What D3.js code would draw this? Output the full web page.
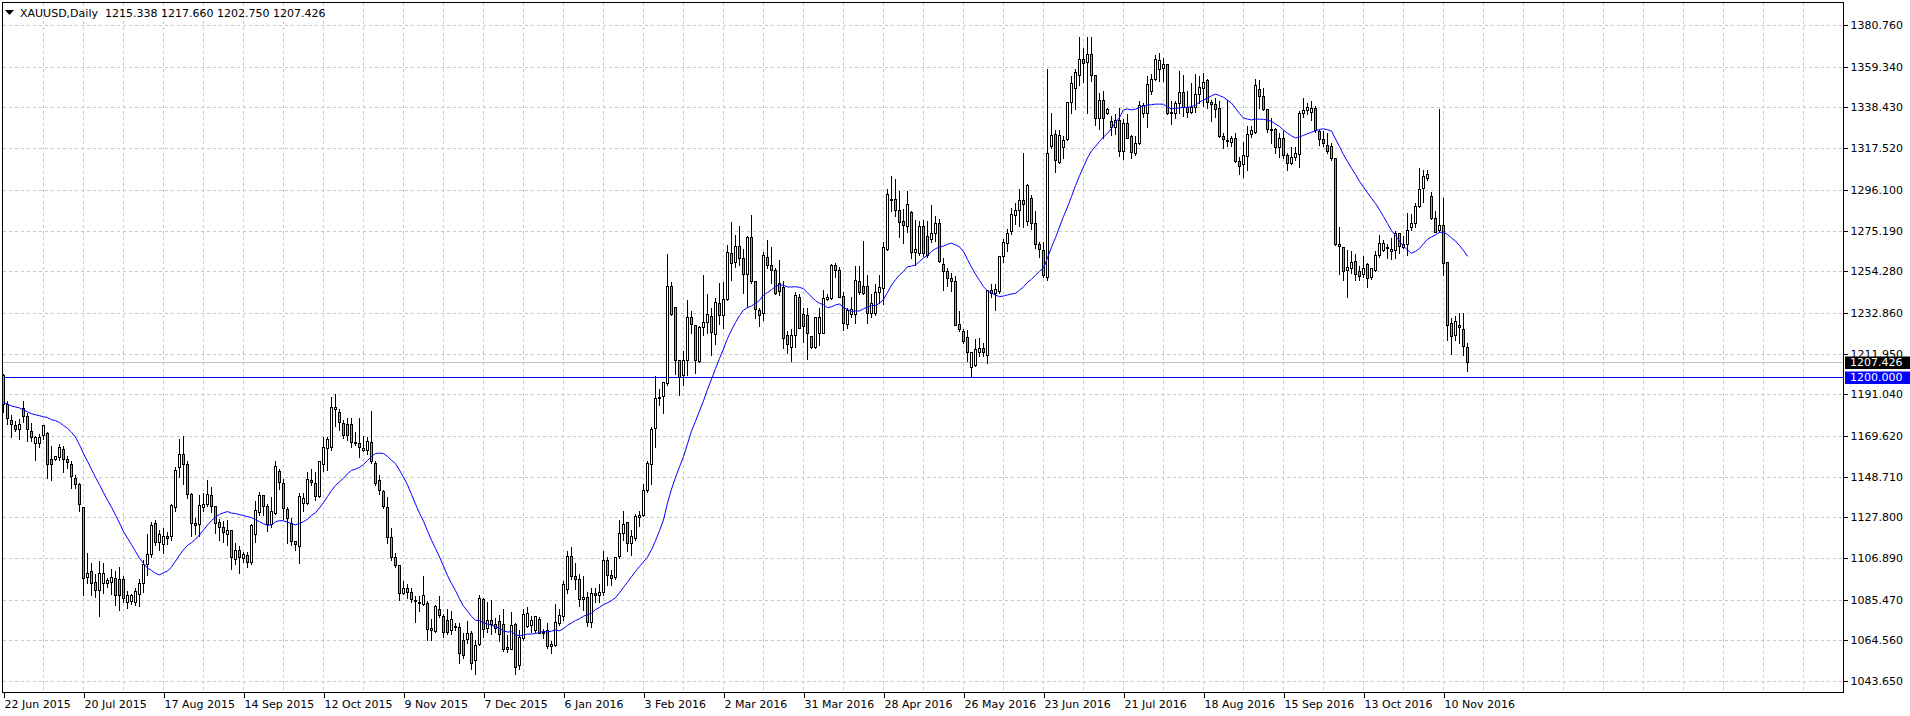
<!DOCTYPE html>
<html>
<head>
<meta charset="utf-8">
<script src="https://cdn.jsdelivr.net/npm/d3@7"></script>
<style>
  html, body { margin: 0; padding: 0; background: #fff; }
  svg { display: block; }
  text { font-family: "DejaVu Sans", sans-serif; font-size: 11px; }
</style>
</head>
<body>
<div id="container"></div>
<script>
// XAUUSD daily, 22 Jun 2015 .. 18 Nov 2016 (one value per bar)
var opens = [
  1201,1186,1178,1175,1173,1184,1180,1172,1166,1166,
  1170,1171,1158,1158,1159,1163,1158,1155,1148,1145,
  1133,1097,1100,1094.5,1090.5,1094,1094,1094.5,1096.5,1096,
  1096,1084,1085,1084.5,1088.5,1094,1104,1109,1125,1115,
  1114,1118,1118,1133,1153.5,1160.5,1155,1140,1125,1124.5,
  1133,1134.5,1139.5,1133.5,1125.5,1123,1119,1121.5,1106.5,1111,
  1107,1108.5,1105,1119,1130.5,1139.5,1133.5,1124.5,1130,1151.5,
  1145.5,1132,1125,1115.5,1113,1135,1135,1147,1145.5,1138.5,
  1155,1163.5,1164,1183.5,1182,1176.5,1176,1175.5,1166,1166,
  1162.5,1162.5,1166.5,1155.5,1147,1141.5,1133,1117.5,1107.5,1103.5,
  1089,1091.5,1089.5,1085.5,1084.5,1083,1083.5,1071,1069.5,1080.5,
  1077,1075,1070,1072,1071.5,1064.5,1065,1068.5,1054.5,1062.5,
  1086,1071,1075,1073,1074.5,1073,1061,1060,1073,1052,
  1065.5,1072,1072.5,1070,1075.5,1068.5,1070,1061.5,1062,1073.5,
  1077,1091,1108,1097.5,1096,1086,1087,1074,1089,1088,
  1089.5,1106,1098,1097,1108,1119.5,1125.5,1114.5,1117,1128,
  1129,1142,1155,1173.5,1189,1190,1197,1246.5,1236,1208.5,
  1201,1208.5,1231,1226.5,1208,1225.5,1228,1231.5,1222,1238,
  1232,1240,1263.5,1259,1267,1261,1253,1272,1249.5,1234.5,
  1233,1261.5,1257.5,1255,1248,1246,1221.5,1215.5,1221.5,1241,
  1232.5,1232,1221,1215.5,1222.5,1222.5,1240,1240.5,1257.5,1255,
  1241.5,1227,1232.5,1232.5,1249,1246.5,1246.5,1233,1233,1243.5,
  1245.5,1265.5,1291,1291.5,1286,1280,1277.5,1284.5,1264,1263.5,
  1277.5,1272.5,1271,1274,1279,1258,1254.5,1251,1249,1227,
  1223.5,1220.5,1205,1206,1212.5,1215,1211,1244.5,1243,1244,
  1262,1269,1275,1283,1285.5,1291,1280,1292,1279,1268.5,
  1265,1251.5,1318.5,1325,1310.5,1318,1322,1341.5,1348.5,1355,
  1363.5,1362,1366,1355,1333,1342.5,1335.5,1331.5,1328.5,1332,
  1316,1330.5,1324,1315,1320,1335.5,1335.5,1347,1353,1358,
  1358.5,1361,1335.5,1335.5,1340.5,1346.5,1338.5,1336,1338.5,1345.5,
  1348.5,1352.5,1341,1340,1338,1324,1321.5,1320.5,1323,1311,
  1309.5,1313.5,1325,1326,1348,1344.5,1337.5,1327.5,1327.5,1318,
  1322.5,1314,1310,1313,1314.5,1335.5,1337,1336,1338,1326.5,
  1322,1319,1318.5,1312.5,1268.5,1266.5,1255,1256,1259.5,1254.5,
  1253,1258,1251.5,1255,1262.5,1265,1266,1264.5,1265,1274,
  1266.5,1268.5,1277,1279,1288,1297,1302,1293,1281.5,1275.5,
  1278,1259,1227.5,1221.5,1226.5,1224.5,1215.338
];
var highs = [
  1202,1188,1181,1178,1179,1188,1182,1177,1170,1171,
  1176,1172,1165,1160,1166,1165,1160,1157,1150,1146,
  1133.5,1110,1105,1099,1106,1105,1097,1101.5,1100.5,1103,
  1098,1090.5,1089,1092,1096.5,1106.5,1119.5,1126,1127,1122,
  1123,1121,1135,1154,1168.5,1170,1157,1141,1128,1140,
  1141,1147.5,1144,1134,1127.5,1126.5,1127,1121.5,1115,1113.5,
  1110.5,1110.5,1125,1136.5,1141.5,1140,1135,1138.5,1157,1153,
  1148,1133.5,1128,1116,1141,1141,1151.5,1153,1151.5,1157,
  1169.5,1169.5,1190,1191.5,1184,1178.5,1179.5,1179.5,1172,1179.5,
  1170,1169.5,1183,1157.5,1150,1142.5,1138.5,1123,1110,1103.5,
  1095.5,1094,1092,1088,1088,1098,1085.5,1076,1083,1088,
  1078.5,1081,1080,1074,1074,1069,1075,1070,1065,1088.5,
  1087,1085,1086,1076.5,1078,1081,1068,1079.5,1074,1070.5,
  1081,1082,1077.5,1077.5,1077,1071,1074,1064.5,1083.5,1081,
  1095.5,1111,1113,1105,1099,1098,1090,1092,1092,1094,
  1111,1108,1101,1108,1127,1131.5,1125.5,1122,1130,1131.5,
  1145.5,1157.5,1174.5,1201,1194,1197.5,1263.5,1249,1236,1208.5,
  1214,1240,1234.5,1226.5,1226.5,1253,1243,1236,1241,1248.5,
  1249,1268.5,1280,1273.5,1278,1266,1273,1283.5,1250,1236,
  1264.5,1271,1267,1256.5,1260.5,1250,1224,1225,1244,1243,
  1236,1236,1221.5,1231.5,1236,1245,1243,1258.5,1259,1257,
  1244,1236,1241.5,1257.5,1257.5,1270.5,1253,1243,1248,1253,
  1270,1297,1303.5,1302,1296,1287,1296,1286,1281,1280.5,
  1281,1280.5,1289,1283,1281.5,1261.5,1256.5,1254,1252.5,1234.5,
  1225,1224.5,1213.5,1220,1220.5,1218,1244.5,1248,1248,1262.5,
  1271.5,1276.5,1287.5,1290,1297,1315.5,1299.5,1294,1286,1270,
  1270,1358.5,1336,1327.5,1327.5,1324.5,1342,1355,1358.5,1375,
  1369.5,1375,1375,1355,1346.5,1347.5,1338.5,1334.5,1335.5,1338.5,
  1333,1335.5,1325,1324.5,1342.5,1341.5,1355,1356,1366,1367,
  1364.5,1361,1342.5,1342.5,1357.5,1355.5,1347.5,1351.5,1356,1355,
  1356.5,1353.5,1343,1344,1342.5,1326,1343,1324.5,1326,1313.5,
  1321,1329.5,1329.5,1353.5,1353,1349,1338,1333.5,1328.5,1326,
  1327,1315.5,1318.5,1318.5,1337,1344,1341,1342.5,1339.5,1327.5,
  1327,1326,1320.5,1313,1277.5,1267,1265.5,1265,1263.5,1257.5,
  1262.5,1259,1256.5,1265,1273.5,1271,1269,1272,1275.5,1274.5,
  1273,1284.5,1284,1290,1308,1307,1307,1295.5,1285.5,1338,
  1292.5,1259,1231,1232,1233.5,1233.5,1217.66
];
var lows = [
  1182,1176,1169,1172,1168,1177,1167,1167,1157,1164,
  1168,1148,1147,1157,1157,1151,1153,1143,1143,1131,
  1088,1094,1088,1087,1077,1089,1092,1088.5,1082.5,1080,
  1084.5,1081,1083,1082.5,1082,1089.5,1098,1107.5,1113.5,1111,
  1109.5,1114,1116,1131,1148.5,1145,1137.5,1118,1119,1118,
  1131,1133.5,1130.5,1119.5,1116,1115,1113.5,1101,1104,1099,
  1105,1102.5,1104,1115,1129,1129,1121,1123,1129.5,1142.5,
  1127,1114.5,1113.5,1111,1104.5,1131,1134.5,1144.5,1136.5,1138,
  1151.5,1152,1162.5,1174.5,1172.5,1168.5,1167.5,1164,1165,1159,
  1162,1160.5,1155.5,1144.5,1140,1132.5,1114.5,1106,1102.5,1085.5,
  1088.5,1086.5,1084.5,1074,1079.5,1082.5,1064.5,1064.5,1069,1076.5,
  1066.5,1068,1068,1070,1053,1055.5,1063,1050,1047,1062,
  1066.5,1069,1068,1069,1064,1059,1058.5,1060,1047.5,1050,
  1064.5,1071.5,1069,1069,1068.5,1066,1060.5,1058,1061.5,1072.5,
  1075,1089,1096,1091,1082,1080,1072,1071.5,1084,1084,
  1088,1093,1093,1096,1107,1116,1110.5,1108.5,1116,1123.5,
  1128.5,1141,1145,1164,1185.5,1181.5,1196,1232,1201.5,1190.5,
  1196,1201,1222.5,1202,1207.5,1221.5,1222.5,1211,1217,1227,
  1225,1239.5,1250,1256.5,1257.5,1243,1236,1248,1230,1226,
  1229,1256,1248,1242.5,1242,1215,1212,1208,1215.5,1225,
  1218,1209,1215,1215,1216.5,1222.5,1239.5,1240,1251.5,1241,
  1224,1225,1231,1227.5,1242.5,1242.5,1227.5,1230.5,1232,1238,
  1237.5,1265,1285,1282.5,1272,1269,1274.5,1261,1257.5,1262.5,
  1262,1261.5,1269.5,1270,1259,1244.5,1246.5,1244,1226.5,1223.5,
  1217.5,1208,1200,1205.5,1210.5,1210.5,1207,1241,1234.5,1243,
  1259,1264.5,1273.5,1278.5,1277.5,1277,1278,1276,1266,1261.5,
  1251.5,1250,1317.5,1305.5,1310,1312.5,1321.5,1335.5,1337.5,1350,
  1351.5,1335.5,1352,1329.5,1327.5,1322.5,1335,1324.5,1325,1313.5,
  1312,1322.5,1312.5,1314,1319.5,1333.5,1328.5,1345.5,1352.5,1352,
  1352,1335,1330,1333,1335.5,1334,1333.5,1335.5,1336,1340.5,
  1339,1338,1331.5,1333.5,1323.5,1317.5,1318.5,1318.5,1310.5,1304,
  1302.5,1306.5,1323.5,1325.5,1338,1337,1326,1320,1315,1313,
  1312.5,1306.5,1309.5,1311.5,1308,1333.5,1335,1332,1326,1319,
  1318.5,1315,1311.5,1268,1253,1250,1241,1253.5,1250,1250,
  1251.5,1246,1250.5,1254.5,1261.5,1264.5,1261,1260.5,1261,1263.5,
  1266,1262.5,1275.5,1277,1287.5,1290,1301,1281,1274.5,1274.5,
  1252.5,1219,1211.5,1219,1217.5,1211,1202.75
];
var closes = [
  1186,1179,1176,1173,1176,1180,1173,1169,1169,1169,
  1175,1155,1155,1159.5,1164,1158,1156,1149,1145,1134.5,
  1096.5,1099,1094,1090.5,1099,1099,1095.5,1097,1088,1088,
  1086.5,1088,1088,1090,1094,1104,1109,1124,1115,1119,
  1118,1117,1134,1152,1160.5,1155,1140,1125,1124,1134,
  1134.5,1140,1133.5,1125,1123,1120,1121.5,1107.5,1111,1107.5,
  1109,1105,1124,1131.5,1139.5,1133.5,1124.5,1131,1154,1146,
  1132.5,1127.5,1115.5,1114,1138.5,1137.5,1147.5,1146,1138.5,1156.5,
  1164,1168,1184.5,1184.5,1177,1170,1170,1166.5,1166.5,1164,
  1163.5,1167,1156.5,1145.5,1142,1133.5,1117.5,1107.5,1103.5,1089,
  1091.5,1089.5,1086,1085,1083.5,1088,1070.5,1070,1082,1077.5,
  1069,1069,1075.5,1071.5,1058,1057,1068.5,1053,1062,1086.5,
  1070.5,1075,1073,1071,1068,1060,1060,1072.5,1051,1066.5,
  1078,1078.5,1075,1077,1068.5,1069,1061.5,1062.5,1074,1077.5,
  1093.5,1108,1097.5,1096,1086,1087,1074,1089,1088,1089.5,
  1106,1098,1096.5,1107.5,1119.5,1124.5,1114.5,1118,1128.5,1129,
  1142,1155.5,1173,1189,1189.5,1197.5,1246.5,1232.5,1208.5,1200,
  1208.5,1231,1227,1208.5,1225.5,1228,1232.5,1223,1238.5,1232,
  1240,1264,1258.5,1267,1261,1253,1272,1249.5,1235,1232,
  1262.5,1257.5,1255,1243,1244,1220,1217,1221.5,1242,1225,
  1226,1222.5,1215.5,1231,1231,1240.5,1241,1257.5,1255,1241,
  1227.5,1234.5,1235,1250,1243.5,1243,1233,1238,1243.5,1246,
  1266.5,1294,1291.5,1286,1279.5,1278,1289,1264,1265.5,1277.5,
  1263.5,1262.5,1274,1279,1259.5,1254.5,1251,1249,1226.5,1224.5,
  1218.5,1212.5,1212.5,1214.5,1215,1213,1244.5,1243,1245,1262,
  1269.5,1274,1283.5,1286,1291,1289,1298.5,1279,1268.5,1265.5,
  1252.5,1315,1324.5,1311.5,1324.5,1321.5,1341.5,1351,1356.5,1363.5,
  1361.5,1366,1355,1333,1342.5,1333,1337.5,1328.5,1332,1316,
  1330.5,1323,1315.5,1320,1339.5,1339.5,1350.5,1353,1363.5,1363,
  1361,1335.5,1336,1340.5,1346.5,1338.5,1336,1338.5,1345.5,1349,
  1351.5,1341.5,1340,1337.5,1324,1322,1321,1323,1311,1308.5,
  1314,1325,1327,1350,1344.5,1337.5,1327.5,1327,1318,1323,
  1314,1310,1313,1315,1335.5,1337,1338.5,1338,1327,1322,
  1320,1316,1312.5,1268.5,1267,1254.5,1256.5,1259,1253,1252,
  1256,1251,1256,1262.5,1269,1269,1266.5,1265.5,1274,1267,
  1268.5,1275.5,1279,1288,1296.5,1303,1304,1281.5,1274.5,1278,
  1258.5,1226.5,1221,1228.5,1225.5,1216,1207.426
];
// MA values for the first bars, where the 20-bar window starts before the chart
var maLead = [1186.7,1186,1185,1184.5,1184,1183,1182,1181,1180.5,1180,
  1179.5,1179,1178,1177.5,1176.5,1175,1173.5,1171.5,1169];
var maPeriod = 20;

var priceTicks = [1380.76,1359.34,1338.43,1317.52,1296.10,1275.19,1254.28,1232.86,
  1211.95,1191.04,1169.62,1148.71,1127.80,1106.89,1085.47,1064.56,1043.65];
var dateIdx = [0,20,40,60,80,100,120,140,160,180,200,220,240,260,280,300,320,340,360];
var dateLabels = ["22 Jun 2015","20 Jul 2015","17 Aug 2015","14 Sep 2015","12 Oct 2015",
  "9 Nov 2015","7 Dec 2015","6 Jan 2016","3 Feb 2016","2 Mar 2016","31 Mar 2016",
  "28 Apr 2016","26 May 2016","23 Jun 2016","21 Jul 2016","18 Aug 2016","15 Sep 2016",
  "13 Oct 2016","10 Nov 2016"];
var header = "XAUUSD,Daily  1215.338 1217.660 1202.750 1207.426";
var bidPrice = 1207.426;
var levelPrice = 1200.0;

// layout
var W = 1910, H = 716;
var plot = { left: 2, top: 2, right: 1843, bottom: 692 };

var svg = d3.select("#container").append("svg")
  .attr("width", W).attr("height", H);

var x = d3.scaleLinear().domain([0, 1]).range([3.5, 7.5]);
var y = d3.scaleLinear().domain([1043.65, 1380.76]).range([681, 681 - 337.11 / 0.514]);
var sy = function (v) { return Math.round(y(v)) + 0.5; };

// grid
var grid = svg.append("g").attr("shape-rendering", "crispEdges")
  .attr("stroke", "#c8c8c8").attr("stroke-dasharray", "3,3");
grid.selectAll(".hg").data(priceTicks).enter().append("line")
  .attr("x1", plot.left + 1).attr("x2", plot.right)
  .attr("y1", sy).attr("y2", sy);
var vgrid = d3.range(10, 460, 10).filter(function (i) { return x(i) < plot.right; });
grid.selectAll(".vg").data(vgrid).enter().append("line")
  .attr("x1", function (d) { return x(d); }).attr("x2", function (d) { return x(d); })
  .attr("y1", plot.top + 1).attr("y2", plot.bottom);

// bid line and 1200 level
svg.append("line").attr("shape-rendering", "crispEdges")
  .attr("x1", plot.left).attr("x2", plot.right)
  .attr("y1", sy(bidPrice)).attr("y2", sy(bidPrice))
  .attr("stroke", "#c0c0c0");
svg.append("line").attr("shape-rendering", "crispEdges")
  .attr("x1", plot.left).attr("x2", plot.right)
  .attr("y1", sy(levelPrice)).attr("y2", sy(levelPrice))
  .attr("stroke", "#0000ff");

// candles
var bars = d3.range(closes.length);
var cg = svg.append("g").attr("shape-rendering", "crispEdges");
cg.selectAll(".wick").data(bars).enter().append("line")
  .attr("x1", function (i) { return x(i); }).attr("x2", function (i) { return x(i); })
  .attr("y1", function (i) { return sy(Math.max(highs[i], opens[i], closes[i])); })
  .attr("y2", function (i) { return sy(Math.min(lows[i], opens[i], closes[i])) + 0.5; })
  .attr("stroke", "#000");
cg.selectAll(".body").data(bars).enter().append("rect")
  .attr("x", function (i) { return x(i) - 1; })
  .attr("width", 2)
  .attr("y", function (i) { return sy(Math.max(opens[i], closes[i])); })
  .attr("height", function (i) {
    return Math.max(0, sy(Math.min(opens[i], closes[i])) - sy(Math.max(opens[i], closes[i])));
  })
  .attr("fill", function (i) { return closes[i] >= opens[i] ? "#ffffff" : "#a0a0a0"; })
  .attr("stroke", "#000");

// moving average (simple, 20)
var ma = bars.map(function (i) {
  if (i < maLead.length) return maLead[i];
  return d3.mean(closes.slice(i - maPeriod + 1, i + 1));
});
svg.append("path")
  .datum(bars)
  .attr("fill", "none")
  .attr("stroke", "#0000ff")
  .attr("stroke-width", 1)
  .attr("d", d3.line().x(function (i) { return x(i); }).y(function (i) { return y(ma[i]); }));

// frame
svg.append("rect").attr("shape-rendering", "crispEdges")
  .attr("x", plot.left + 0.5).attr("y", plot.top + 0.5)
  .attr("width", plot.right - plot.left).attr("height", plot.bottom - plot.top)
  .attr("fill", "none").attr("stroke", "#000");

// price axis
var yAxis = svg.append("g")
  .attr("transform", "translate(" + (plot.right + 0.5) + ",0)")
  .call(d3.axisRight(y).tickValues(priceTicks).tickSize(4).tickPadding(3)
    .tickFormat(d3.format(".3f")));
yAxis.select(".domain").remove();
yAxis.selectAll(".tick").attr("transform", function (d) { return "translate(0," + sy(d) + ")"; });
yAxis.selectAll("text").attr("fill", "#000").style("font-family", "DejaVu Sans").style("font-size", "11px");
yAxis.selectAll("line").attr("stroke", "#000").attr("shape-rendering", "crispEdges");

// time axis
var xAxis = svg.append("g")
  .attr("transform", "translate(0," + (plot.bottom + 0.5) + ")")
  .call(d3.axisBottom(x).tickValues(dateIdx).tickSize(5).tickPadding(3)
    .tickFormat(function (d, k) { return dateLabels[k]; }));
xAxis.select(".domain").remove();
xAxis.selectAll("text").attr("text-anchor", "start").attr("dx", "0.5")
  .attr("fill", "#000").style("font-family", "DejaVu Sans").style("font-size", "11px");
xAxis.selectAll("line").attr("stroke", "#000").attr("shape-rendering", "crispEdges");

// price tags
function tag(v, bg) {
  var g = svg.append("g").attr("transform", "translate(0," + sy(v) + ")");
  g.append("rect").attr("x", plot.right + 2).attr("y", -6).attr("width", W - plot.right - 2)
    .attr("height", 12.5).attr("fill", bg);
  g.append("text").attr("x", plot.right + 7).attr("dy", "0.36em").attr("fill", "#fff")
    .text(d3.format(".3f")(v));
}
tag(bidPrice, "#000");
tag(levelPrice, "#0000ff");

// header
svg.append("path").attr("d", "M5,10 L14,10 L9.5,15 Z").attr("fill", "#000");
svg.append("text").attr("x", 20).attr("y", 17).attr("fill", "#000")
  .style("white-space", "pre").attr("xml:space", "preserve").text(header);
</script>
</body>
</html>
